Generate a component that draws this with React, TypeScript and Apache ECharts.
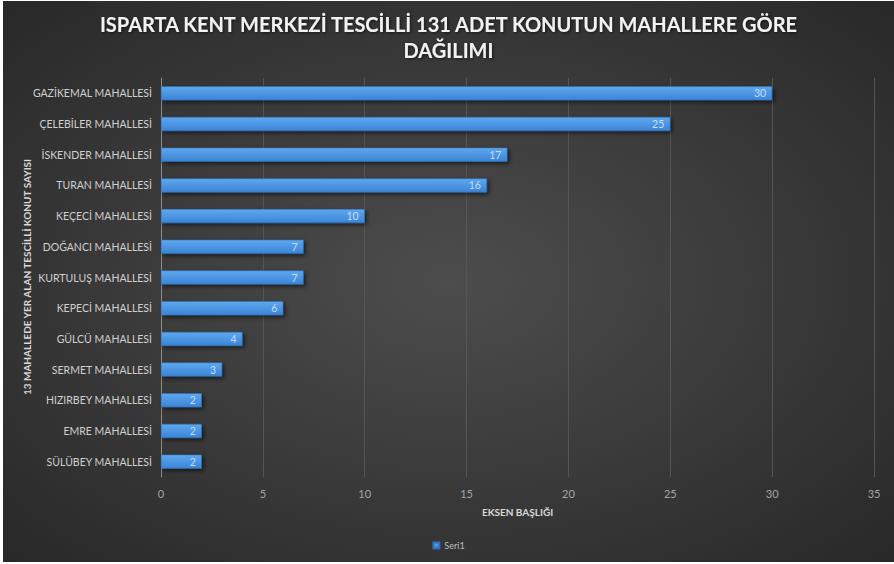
import React, { useEffect, useRef } from "react";
import * as echarts from "echarts";

const titleText = "ISPARTA KENT MERKEZİ TESCİLLİ 131 ADET KONUTUN MAHALLERE GÖRE\nDAĞILIMI";
const categories = [
  "GAZİKEMAL MAHALLESİ",
  "ÇELEBİLER MAHALLESİ",
  "İSKENDER MAHALLESİ",
  "TURAN MAHALLESİ",
  "KEÇECİ MAHALLESİ",
  "DOĞANCI MAHALLESİ",
  "KURTULUŞ MAHALLESİ",
  "KEPECİ MAHALLESİ",
  "GÜLCÜ MAHALLESİ",
  "SERMET MAHALLESİ",
  "HIZIRBEY MAHALLESİ",
  "EMRE MAHALLESİ",
  "SÜLÜBEY MAHALLESİ",
];
const values = [30, 25, 17, 16, 10, 7, 7, 6, 4, 3, 2, 2, 2];
const seriesName = "Seri1";
const xAxisName = "EKSEN BAŞLIĞI";
const yAxisName = "13 MAHALLEDE YER ALAN TESCİLLİ KONUT SAYISI";

export default function App() {
  const ref = useRef<HTMLDivElement>(null);
  useEffect(() => {
    document.body.style.margin = "0";
    document.body.style.background = "#ffffff";
    const chart = echarts.init(ref.current!, null, { renderer: "svg" });
    const font = "Lato, 'Open Sans', sans-serif";
    chart.setOption({
      animation: false,
      backgroundColor: {
        type: "radial",
        x: 0.5,
        y: 0.5,
        r: 0.75,
        colorStops: [
          { offset: 0, color: "#4d4d4d" },
          { offset: 1, color: "#262626" },
        ],
      },
      title: {
        text: titleText,
        left: "center",
        top: 5,
        textStyle: {
          color: "#f2f2f2",
          fontFamily: font,
          fontWeight: "bold",
          fontSize: 20,
          lineHeight: 26,
          textShadowColor: "rgba(0,0,0,0.6)",
          textShadowBlur: 3,
          textShadowOffsetX: 1,
          textShadowOffsetY: 1,
        },
      },
      legend: {
        data: [seriesName],
        left: "center",
        top: 535,
        icon: "rect",
        itemWidth: 6,
        itemHeight: 6,
        itemGap: 4,
        textStyle: { color: "#bfbfbf", fontFamily: font, fontSize: 9 },
      },
      graphic: [
        {
          type: "text",
          x: 24,
          y: 276,
          rotation: Math.PI / 2,
          style: {
            text: yAxisName,
            fill: "#d9d9d9",
            font: `bold 10px ${font}`,
            align: "center",
            verticalAlign: "middle",
          },
        },
      ],
      grid: { left: 158, right: 20, top: 77, bottom: 85 },
      xAxis: {
        type: "value",
        min: 0,
        max: 35,
        interval: 5,
        name: xAxisName,
        nameLocation: "middle",
        nameGap: 30,
        nameTextStyle: { color: "#d9d9d9", fontFamily: font, fontWeight: "bold", fontSize: 10 },
        axisLine: { show: false },
        axisTick: { show: false },
        axisLabel: { color: "#a6a6a6", fontFamily: font, fontSize: 11, margin: 11 },
        splitLine: { show: true, lineStyle: { color: "#555555", width: 1 } },
      },
      yAxis: {
        type: "category",
        data: categories,
        inverse: true,
        axisLine: { show: true, lineStyle: { color: "#8c8c8c", width: 1 } },
        axisTick: { show: false },
        axisLabel: { color: "#d0d0d0", fontFamily: font, fontSize: 10.5, margin: 9 },
        splitLine: { show: false },
      },
      series: [
        {
          name: seriesName,
          type: "bar",
          data: values,
          barWidth: 14,
          itemStyle: {
            color: {
              type: "linear",
              x: 0,
              y: 0,
              x2: 0,
              y2: 1,
              colorStops: [
                { offset: 0, color: "#5ea8ef" },
                { offset: 1, color: "#3b84d6" },
              ],
            },
            borderColor: "#2f6fb8",
            borderWidth: 0.5,
            shadowColor: "rgba(0,0,0,0.6)",
            shadowBlur: 4,
            shadowOffsetX: 2,
            shadowOffsetY: 2,
          },
          label: {
            show: true,
            position: "insideRight",
            distance: 6,
            color: "#c6dcf3",
            fontFamily: font,
            fontSize: 10.5,
          },
        },
      ],
    });
    return () => chart.dispose();
  }, []);
  return (
    <div
      ref={ref}
      style={{ position: "absolute", left: 3, top: 1, width: 891, height: 561 }}
    />
  );
}
